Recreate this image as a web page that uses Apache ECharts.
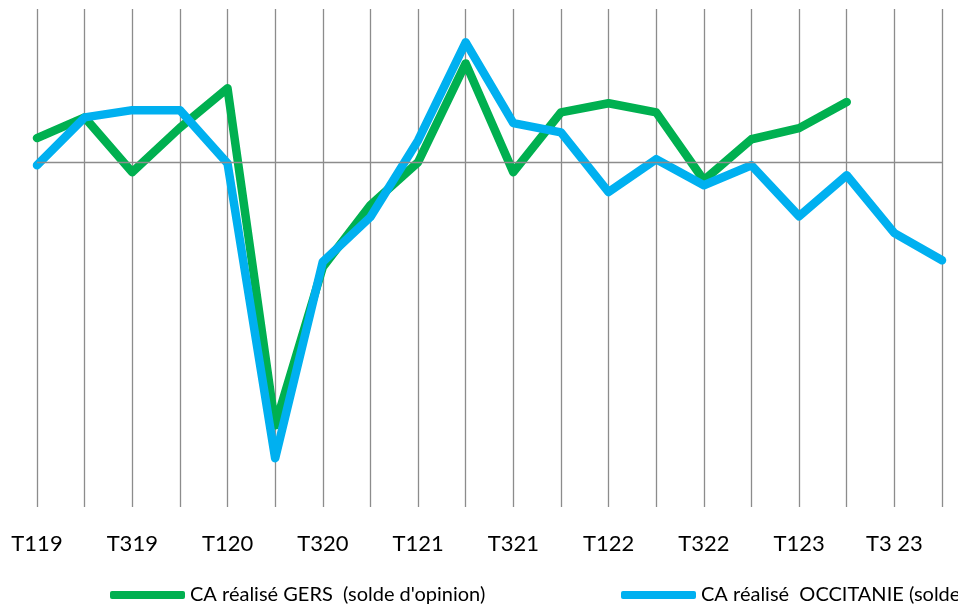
<!DOCTYPE html>
<html><head><meta charset="utf-8">
<script src="https://cdn.jsdelivr.net/npm/echarts@6/dist/echarts.min.js"></script>
<style>html,body{margin:0;padding:0;background:#fff}#c{width:958px;height:609px}</style>
</head><body><div id="c"></div>
<script>
const categories = ['T119','T219','T319','T419','T120','T220','T320','T420','T121','T221','T321','T421','T122','T222','T322','T422','T123','T223','T3 23','T423'];
const gersName = "CA réalisé GERS  (solde d'opinion)";
const occName = "CA réalisé  OCCITANIE (solde d'opinion)";
const gersValues = [6.3, 11.7, -2.6, 9.0, 19.3, -68.7, -27.4, -11.2, 0, 25.8, -2.6, 13, 15.4, 13, -4.7, 6, 8.9, 15.7, null, null];
const occValues = [-0.8, 11.7, 13.6, 13.6, -0.3, -77.3, -26, -14.3, 5.7, 31.3, 10.2, 7.8, -7.8, 0.8, -6, -0.8, -14.1, -3.4, -18.5, -25.6];

const chart = echarts.init(document.getElementById('c'), null, {renderer:'canvas'});
const font = 'Lato, "Open Sans", sans-serif';
chart.setOption({
  animation:false,
  backgroundColor:'#fff',
  grid:{left:37, right:16, top:9, bottom:102, containLabel:false},
  legend:[
    {data:[gersName], left:110, top:585, padding:0, itemWidth:75, itemHeight:8, itemGap:0,
     icon:'roundRect', textStyle:{fontFamily:font, fontSize:20, color:'#000'}},
    {data:[occName], left:621, top:585, padding:0, itemWidth:75, itemHeight:8, itemGap:0,
     icon:'roundRect', textStyle:{fontFamily:font, fontSize:20, color:'#000'}}
  ],
  xAxis:{type:'category', data:categories, boundaryGap:false,
    axisLine:{show:false}, axisTick:{show:false},
    axisLabel:{interval:1, margin:26, fontFamily:font, fontSize:22, color:'#000'},
    splitLine:{show:true, interval:0, lineStyle:{color:'#8c8c8c', width:1.3}}},
  yAxis:{type:'value', min:-90, max:40, show:false, splitLine:{show:false}},
  series:[
    {name:gersName, type:'line', data:gersValues, symbol:'none', color:'#00B050',
     lineStyle:{width:8.5, color:'#00B050', cap:'round', join:'round'},
     markLine:{silent:true, symbol:'none', label:{show:false},
       lineStyle:{color:'#8c8c8c', width:1.3, type:'solid'}, data:[{yAxis:0}]}},
    {name:occName, type:'line', data:occValues, symbol:'none', color:'#00B0F0',
     lineStyle:{width:8.5, color:'#00B0F0', cap:'round', join:'round'}}
  ]
});
</script></body></html>
